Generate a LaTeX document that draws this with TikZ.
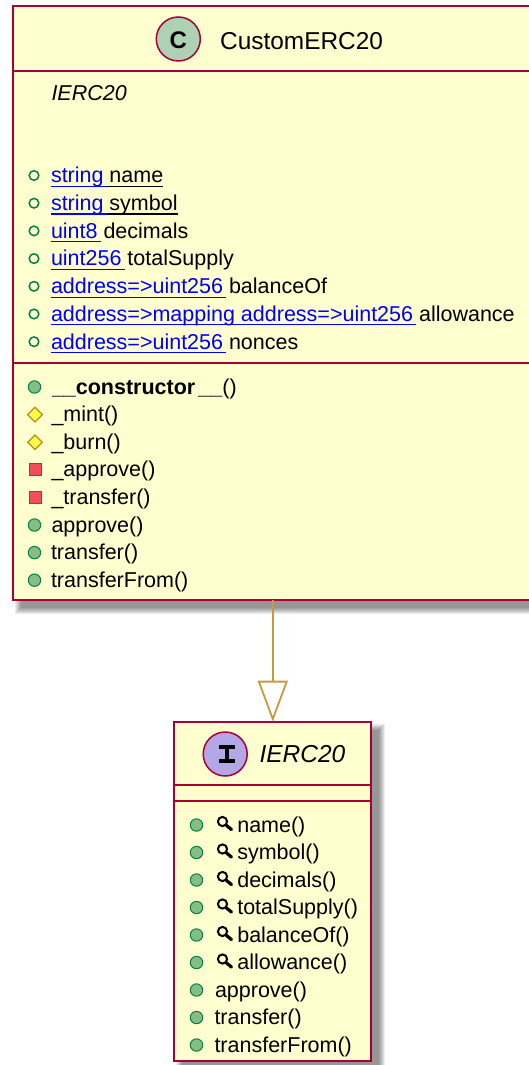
\documentclass[tikz,border=0pt]{standalone}
\usepackage{fontspec}
\setmainfont{Liberation Sans}
\usetikzlibrary{arrows.meta}
\definecolor{umlborder}{HTML}{A80036}
\definecolor{umlbg}{HTML}{FEFECE}
\definecolor{arrowgold}{HTML}{C99A3C}
\definecolor{pubstroke}{HTML}{038048}
\definecolor{pubfill}{HTML}{84BE84}
\definecolor{protstroke}{HTML}{B38D22}
\definecolor{protfill}{HTML}{FFFF44}
\definecolor{privstroke}{HTML}{C82930}
\definecolor{privfill}{HTML}{F24D5C}
\definecolor{classcirc}{HTML}{ADD1B2}
\definecolor{ifacecirc}{HTML}{B4A7E5}
\definecolor{linkblue}{HTML}{0000FF}
\tikzset{
  umlbox/.style={draw=umlborder, fill=umlbg, line width=2pt, rectangle, inner sep=0pt, outer sep=0pt},
  sepline/.style={draw=umlborder, line width=2pt},
  member/.style={anchor=base west, inner sep=0pt, outer sep=0pt, font=\fontsize{21.5}{25}\selectfont},
  linkline/.style={draw=linkblue, line width=1.2pt},
  plainline/.style={draw=black, line width=1.2pt},
  pubfield/.style={draw=pubstroke, line width=1.5pt},
  pubmethod/.style={draw=pubstroke, fill=pubfill, line width=1pt},
  protmethod/.style={draw=protstroke, fill=protfill, line width=1.2pt},
  privmethod/.style={draw=privstroke, fill=privfill, line width=1pt},
  spotcirc/.style={circle, draw=umlborder, line width=1.5pt, minimum size=44pt, inner sep=0pt},
  inherit/.style={draw=arrowgold, line width=1.8pt, -{Triangle[open, fill=white, width=30pt, length=41pt]}}
}
\newcommand{\softshadow}[4]{%
  \foreach \s in {0,1,...,6}{%
    \fill[black, opacity=0.07] ({#1+8-\s},{#2+8-\s}) rectangle ({#3+8+\s},{#4+8+\s});
  }%
}
\newcommand{\fieldrow}[5]{%
  \node[member] (#1t) at (51,{#2+7.3}) {\color{linkblue}#3};
  \node[member] (#1n) at ([xshift=5.9pt]#1t.base east) {#4};
  \draw[linkline] ([yshift=-3.5pt]#1t.base west) -- ([xshift=3pt,yshift=-3.5pt]#1t.base east);
  \ifnum#5=1 \draw[plainline] ([xshift=3pt,yshift=-3.5pt]#1t.base east) -- ([yshift=-3.5pt]#1n.base east);\fi
  \draw[pubfield] (34,#2) circle (4.8pt);
}
\newcommand{\pubicon}[2]{\draw[pubmethod] (#1,#2) circle (6.2pt);}
\newcommand{\proticon}[2]{\draw[protmethod] (#1,{#2-7.3}) -- ({#1+7.3},#2) -- (#1,{#2+7.3}) -- ({#1-7.3},#2) -- cycle;}
\newcommand{\privicon}[2]{\draw[privmethod] ({#1-6},{#2-6}) rectangle ({#1+6},{#2+6});}
\newcommand{\magicon}[1]{%
  \draw[line width=2pt] (222.5,{#1-3.5}) circle (4.6pt);
  \draw[line width=3.2pt, line cap=round] (226.3,{#1+0.3}) -- (231.5,{#1+4.6});
}
\newcommand{\mtext}[4]{\node[member] (#1) at (#2,{#3+7}) {#4};}
\begin{document}
\begin{tikzpicture}[x=1pt,y=-1pt]
\useasboundingbox (0,0) rectangle (529,1065);
\fill[white] (0,0) rectangle (529,1065);
% shadows
\softshadow{12.7}{6}{532.9}{600}
\softshadow{174.45}{721.7}{371.15}{1061}
% boxes
\node[umlbox, minimum width=520.2pt, minimum height=594pt] (cls) at (272.8,303) {};
\node[umlbox, minimum width=196.7pt, minimum height=339.3pt] (ifc) at (272.8,891.35) {};
\draw[sepline] (12.7,71) -- (532.9,71);
\draw[sepline] (12.7,363.3) -- (532.9,363.3);
\draw[sepline] (174.45,785) -- (371.15,785);
\draw[sepline] (174.45,800.7) -- (371.15,800.7);
% class header
\node[spotcirc, fill=classcirc] (ccirc) at (178.3,39) {};
\node[inner sep=0pt, font=\fontsize{24}{24}\selectfont\bfseries] (cglyph) at (178.3,40.3) {C};
\node[anchor=base west, inner sep=0pt, font=\fontsize{24.4}{28}\selectfont] (ctitle) at (220,49.3) {CustomERC20};
% fields
\node[member, font=\fontsize{21.5}{25}\selectfont\itshape] (cimpl) at (51.5,100) {IERC20};
\fieldrow{fa}{175.5}{string}{name}{1}
\fieldrow{fb}{203.2}{string}{symbol}{1}
\fieldrow{fc}{230.9}{uint8}{decimals}{0}
\fieldrow{fd}{258.6}{uint256}{totalSupply}{0}
\fieldrow{fe}{286.3}{address=>uint256}{balanceOf}{0}
\fieldrow{ff}{314}{address=>mapping address=>uint256}{allowance}{0}
\fieldrow{fg}{341.7}{address=>uint256}{nonces}{0}
% methods
\pubicon{34.5}{387}
\mtext{ma}{52}{387}{\textbf{\_\_constructor\hspace{3pt}\_\_}()}
\proticon{35}{414.6}
\mtext{mb}{51.5}{414.6}{\_mint()}
\proticon{35}{442.2}
\mtext{mc}{51.5}{442.2}{\_burn()}
\privicon{35}{469.8}
\mtext{md}{51.5}{469.8}{\_approve()}
\privicon{35}{497.4}
\mtext{me}{51.5}{497.4}{\_transfer()}
\pubicon{34.5}{525}
\mtext{mf}{51.5}{525}{approve()}
\pubicon{34.5}{552.6}
\mtext{mg}{51}{552.6}{transfer()}
\pubicon{34.5}{580.2}
\mtext{mh}{51}{580.2}{transferFrom()}
% interface header
\node[spotcirc, fill=ifacecirc] (icirc) at (225.2,754) {};
\fill (218.8,745.3) rectangle (235.4,749.3);
\fill (218.8,758.7) rectangle (235.4,762.7);
\fill (225.1,749) rectangle (229.1,759);
\node[anchor=base west, inner sep=0pt, font=\fontsize{24.5}{28}\selectfont\itshape] (ititle) at (259.3,762.5) {IERC20};
% interface methods
\pubicon{196.5}{825}\magicon{825}
\mtext{ia}{237.3}{825}{name()}
\pubicon{196.5}{852.5}\magicon{852.5}
\mtext{ib}{237.3}{852.5}{symbol()}
\pubicon{196.5}{880}\magicon{880}
\mtext{ic}{237.3}{880}{decimals()}
\pubicon{196.5}{907.5}\magicon{907.5}
\mtext{id}{237.3}{907.5}{totalSupply()}
\pubicon{196.5}{935}\magicon{935}
\mtext{ie}{237.3}{935}{balanceOf()}
\pubicon{196.5}{962.5}\magicon{962.5}
\mtext{if}{237.3}{962.5}{allowance()}
\pubicon{196.5}{990}
\mtext{ig}{215}{990}{approve()}
\pubicon{196.5}{1017.5}
\mtext{ih}{214.5}{1017.5}{transfer()}
\pubicon{196.5}{1045}
\mtext{ii}{214.5}{1045}{transferFrom()}
% inheritance connector
\draw[inherit] (cls.south) -- (ifc.north);
\end{tikzpicture}
\end{document}
